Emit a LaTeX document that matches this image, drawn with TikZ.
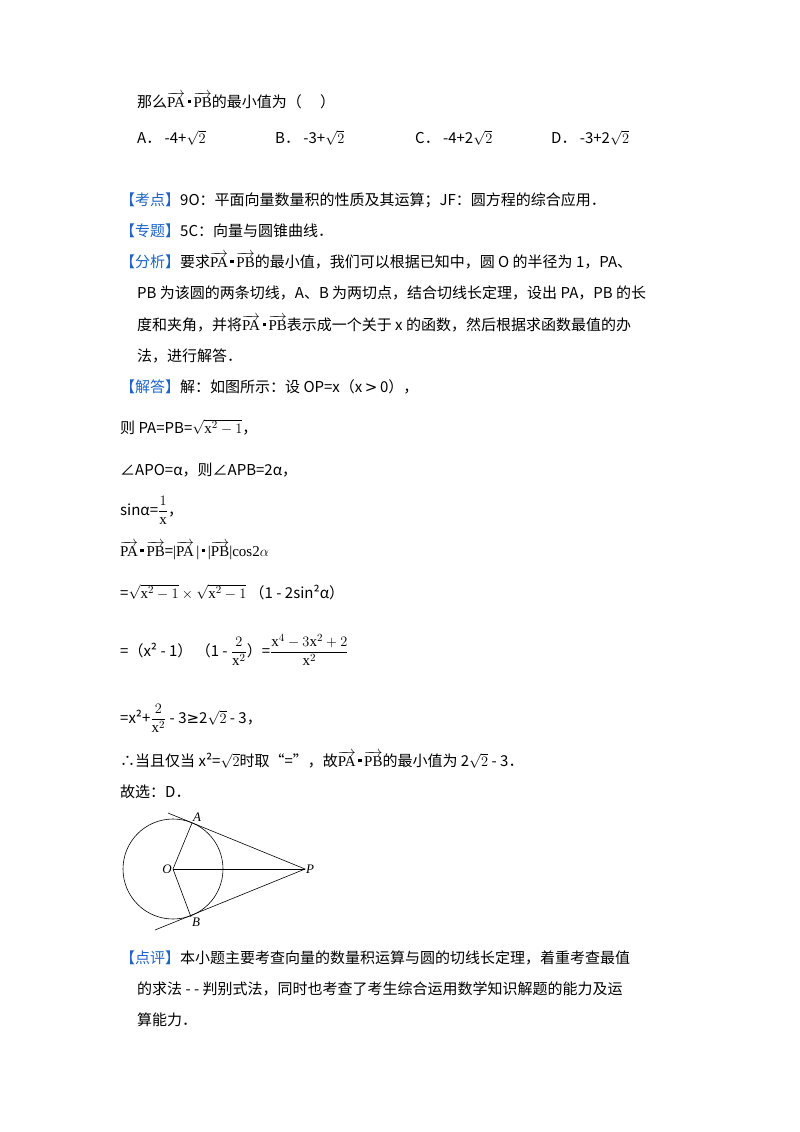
\documentclass[tikz,border=0pt]{standalone}
\usepackage{amsmath}
\usepackage{fontspec}
\setmainfont{Noto Sans CJK SC}
\newfontfamily\serf{Liberation Serif}
\newfontfamily\sym{DejaVu Sans}
\definecolor{tagblue}{RGB}{30,100,200}
\newcommand{\vecx}[1]{$\overrightarrow{\mbox{\serf #1}}$}
\newcommand{\dotm}{\,\raisebox{0.25em}{\rule{3.5pt}{3.5pt}}\,}
\newcommand{\tg}[1]{\textcolor{tagblue}{【#1】}}
\begin{document}
\begin{tikzpicture}[x=1pt,y=-1pt,
  txt/.style={anchor=base west,inner sep=0pt,font=\fontsize{15}{18}\selectfont},
  lbl/.style={font=\fontsize{13}{14}\selectfont\serf\itshape,inner sep=1pt}]
\useasboundingbox[fill=white] (0,0) rectangle (800,1132);
\node[txt] (l1) at (137,107) {那么\vecx{PA}\dotm\vecx{PB}的最小值为（\quad\ ）};
\node[txt] (oa) at (137,143) {A．\ -4+$\sqrt{2}$};
\node[txt] (ob) at (275,143) {B．\ -3+$\sqrt{2}$};
\node[txt] (oc) at (415,143) {C．\ -4+2$\sqrt{2}$};
\node[txt] (od) at (551,143) {D．\ -3+2$\sqrt{2}$};
\node[txt] (k1) at (120,205) {\tg{考点}9O：平面向量数量积的性质及其运算；JF：圆方程的综合应用．};
\node[txt] (k2) at (120,236) {\tg{专题}5C：向量与圆锥曲线．};
\node[txt] (k3) at (120,267) {\tg{分析}要求\vecx{PA}\dotm\vecx{PB}的最小值，我们可以根据已知中，圆 O 的半径为 1，PA、};
\node[txt] (k4) at (137,298) {PB 为该圆的两条切线，A、B 为两切点，结合切线长定理，设出 PA，PB 的长};
\node[txt] (k5) at (137,330) {度和夹角，并将\vecx{PA}\dotm\vecx{PB}表示成一个关于 x 的函数，然后根据求函数最值的办};
\node[txt] (k6) at (137,361) {法，进行解答．};
\node[txt] (k7) at (120,392) {\tg{解答}解：如图所示：设 OP=x（x\,{\sym >}\,0），};
\node[txt] (s1) at (120,433) {则 PA=PB=$\sqrt{\mbox{\serf x}^2-1}$，};
\node[txt] (s2) at (120,475) {∠APO=α，则∠APB=2α，};
\node[txt] (s3) at (120,515) {sinα=$\dfrac{1}{\mbox{\serf x}}$，};
\node[txt] (s4) at (120,556) {\vecx{PA}\dotm\vecx{PB}={\serf|}\vecx{PA}{\serf\,|}\dotm{\serf|}\vecx{PB}{\serf|cos2}$\alpha$};
\node[txt] (s5) at (120,598) {=$\sqrt{\mbox{\serf x}^2-1}\times\sqrt{\mbox{\serf x}^2-1}$\ （1 - 2sin²α）};
\node[txt] (s6) at (120,656) {=（x² - 1）\ （1 - $\dfrac{2}{\mbox{\serf x}^2}$）=$\dfrac{\mbox{\serf x}^4-3\mbox{\serf x}^2+2}{\mbox{\serf x}^2}$};
\node[txt] (s7) at (120,723) {=x²+$\dfrac{2}{\mbox{\serf x}^2}$ - 3{\sym ≥}2$\sqrt{2}$ - 3，};
\node[txt] (s8) at (120,766) {∴当且仅当 x²=$\sqrt{2}$时取“=”，故\vecx{PA}\dotm\vecx{PB}的最小值为 2$\sqrt{2}$ - 3．};
\node[txt] (s9) at (120,797) {故选：D．};
% figure
\coordinate (O) at (173,869);
\coordinate (P) at (305,869);
\coordinate (A) at (192,823);
\coordinate (B) at (191,917);
\coordinate (A2) at (168,813);
\coordinate (B2) at (155,930);
\draw[line width=0.6pt] (O) circle (50);
\draw[line width=0.6pt] (A2) -- (P) -- (B2);
\draw[line width=0.6pt] (A) -- (O) -- (B);
\draw[line width=0.9pt] (O) -- (P);
\node[lbl,anchor=east] (nO) at (O) {O};
\node[lbl,anchor=west] (nP) at (P) {P};
\node[lbl,anchor=south west] (nA) at (A) {A};
\node[lbl,anchor=north west] (nB) at (B) {B};
\node[txt] (d1) at (120,963) {\tg{点评}本小题主要考查向量的数量积运算与圆的切线长定理，着重考查最值};
\node[txt] (d2) at (137,994) {的求法 - - 判别式法，同时也考查了考生综合运用数学知识解题的能力及运};
\node[txt] (d3) at (137,1025) {算能力．};
\end{tikzpicture}
\end{document}
